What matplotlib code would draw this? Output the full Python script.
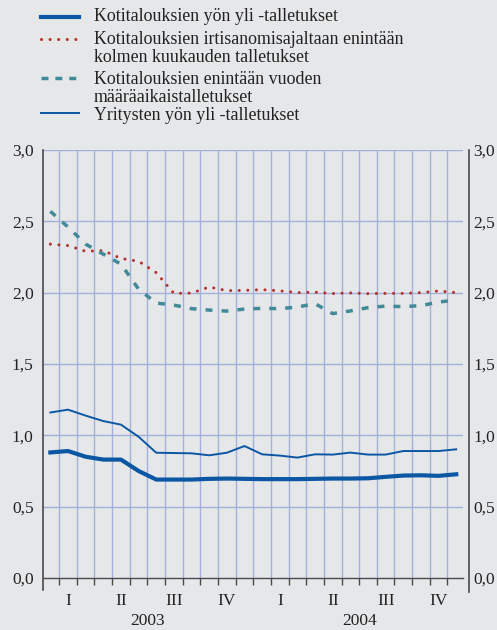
import numpy as np
import matplotlib
matplotlib.use("Agg")
import matplotlib.pyplot as plt
from matplotlib.lines import Line2D
from matplotlib.transforms import blended_transform_factory

# monthly observations, Jan 2003 - Dec 2004 (%)
months = np.arange(24)
hh_overnight = [0.88, 0.89, 0.85, 0.83, 0.83, 0.75, 0.69, 0.69, 0.69, 0.695,
                0.697, 0.695, 0.693, 0.693, 0.693, 0.695, 0.697, 0.697, 0.699, 0.709,
                0.718, 0.72, 0.716, 0.727]
hh_notice3m = [2.34, 2.33, 2.29, 2.295, 2.24, 2.22, 2.14, 1.995, 1.997, 2.04,
               2.014, 2.016, 2.021, 2.013, 2.0, 2.003, 1.994, 1.998, 1.993, 1.995,
               1.995, 2.0, 2.012, 2.0]
hh_term1y = [2.57, 2.46, 2.34, 2.27, 2.2, 2.025, 1.927, 1.913, 1.888, 1.878,
             1.871, 1.885, 1.89, 1.888, 1.899, 1.923, 1.853, 1.872, 1.895, 1.906,
             1.902, 1.909, 1.934, 1.949]
corp_overnight = [1.16, 1.18, 1.138, 1.10, 1.075, 0.99, 0.878, 0.876, 0.874, 0.86,
                  0.878, 0.925, 0.867, 0.858, 0.844, 0.867, 0.865, 0.879, 0.865, 0.865,
                  0.89, 0.89, 0.89, 0.902]

labels = ["Kotitalouksien yön yli -talletukset",
          "Kotitalouksien irtisanomisajaltaan enintään\nkolmen kuukauden talletukset",
          "Kotitalouksien enintään vuoden\nmääräaikaistalletukset",
          "Yritysten yön yli -talletukset"]
quarters = ["I", "II", "III", "IV"]
years = ["2003", "2004"]
yticks = [0.0, 0.5, 1.0, 1.5, 2.0, 2.5, 3.0]

bg = "#e6e7e9"
grid_c = "#a3b0da"
blue = "#0b57a4"
red = "#b3322e"
teal = "#418a98"
axis_c = "#4a4a4a"
txt_c = "#222222"

plt.rcParams["font.family"] = ["Liberation Serif", "DejaVu Serif"]
plt.rcParams["font.size"] = 12.5

fig = plt.figure(figsize=(4.97, 6.30), dpi=100, facecolor=bg)
ax = fig.add_axes([43.3 / 497, 1 - 578 / 630, 420 / 497, 428 / 630], facecolor=bg)

ax.plot(months, hh_notice3m, color=red, lw=2.2, dashes=[0.01, 2.8],
        dash_capstyle="round", zorder=3)
ax.plot(months, hh_term1y, color=teal, lw=2.5, dashes=[2.0, 2.6],
        dash_capstyle="butt", zorder=3)
ax.plot(months, corp_overnight, color=blue, lw=1.4, zorder=3)
ax.plot(months, hh_overnight, color=blue, lw=3.0, zorder=3)

ax.set_xlim(-0.4, 23.4)
ax.set_ylim(0, 3.0)

# grid
for yv in yticks[1:]:
    ax.axhline(yv, color=grid_c, lw=1.0, zorder=1)
for xb in np.arange(0.5, 23, 1.0):
    ax.axvline(xb, color=grid_c, lw=1.0, zorder=1)

# axes / spines
for s in ["top", "right"]:
    ax.spines[s].set_visible(False)
ax.spines["left"].set_color(axis_c)
ax.spines["left"].set_linewidth(1.2)
ax.spines["left"].set_bounds(-0.085, 3.0)
ax.spines["bottom"].set_color(axis_c)
ax.spines["bottom"].set_linewidth(1.0)

ax.set_yticks(yticks)
ax.set_yticklabels([f"{v:.1f}".replace(".", ",") for v in yticks])
ax.tick_params(axis="y", length=0, pad=7, labelsize=12.5, colors=txt_c)

ax.set_xticks(np.arange(0.5, 23, 1.0))
ax.set_xticklabels([])
ax.tick_params(axis="x", which="major", length=5, width=1.0, color=axis_c, direction="out")
ax.set_xticks([1, 4, 7, 10, 13, 16, 19, 22], minor=True)
ax.set_xticklabels(quarters * 2, minor=True)
ax.tick_params(axis="x", which="minor", length=0, pad=11, labelsize=12.5, colors=txt_c)

trans = blended_transform_factory(ax.transData, fig.transFigure)
for i, yr in enumerate(years):
    ax.text(5.5 + 12 * i, 1 - 621 / 630, yr, transform=trans, ha="center", va="center",
            fontsize=12.5, color=txt_c)

# right axis
ax2 = ax.twinx()
ax2.set_ylim(0, 3.0)
for s in ["top", "left", "bottom"]:
    ax2.spines[s].set_visible(False)
ax2.spines["right"].set_position(("outward", 4))
ax2.spines["right"].set_color(axis_c)
ax2.spines["right"].set_linewidth(1.2)
ax2.spines["right"].set_bounds(-0.095, 3.0)
ax2.set_yticks(yticks)
ax2.set_yticklabels([f"{v:.1f}".replace(".", ",") for v in yticks])
ax2.tick_params(axis="y", length=0, pad=3, labelsize=12.5, colors=txt_c)

# legend drawn in figure pixels
def fy(p):
    return 1 - p / 630

handles = [
    dict(y=17.3, color=blue, lw=3.0, dashes=None),
    dict(y=39.0, color=red, lw=2.2, dashes=[0.01, 2.8]),
    dict(y=78.3, color=teal, lw=2.5, dashes=[2.0, 2.0]),
    dict(y=113.3, color=blue, lw=1.4, dashes=None),
]
text_y = [15.7, 39.0, 79.0, 115.0]
for h, lab, ty in zip(handles, labels, text_y):
    ln = Line2D([41 / 497, 79 / 497], [fy(h["y"])] * 2, color=h["color"], lw=h["lw"],
                transform=fig.transFigure, dash_capstyle="round" if h["color"] == red else "butt")
    if h["dashes"]:
        ln.set_dashes(h["dashes"])
    fig.add_artist(ln)
    fig.text(94 / 497, fy(ty - 8.0), lab, ha="left", va="top", fontsize=12.9,
             color=txt_c, linespacing=1.1)

fig.savefig("out.png", dpi=100, facecolor=bg)
